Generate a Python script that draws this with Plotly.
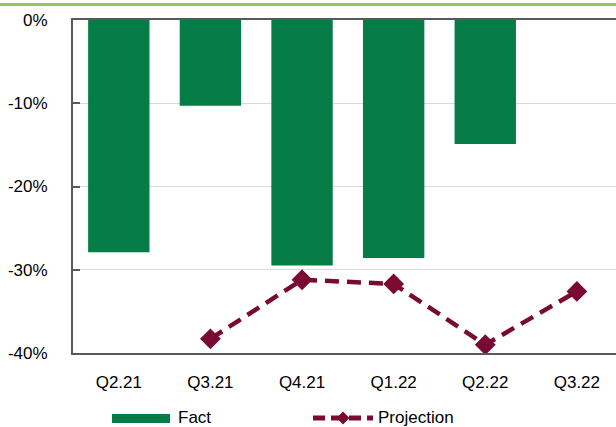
import plotly.graph_objects as go

# Quarterly change, %
quarters = ["Q2.21", "Q3.21", "Q4.21", "Q1.22", "Q2.22", "Q3.22"]
fact = [-27.9, -10.3, -29.5, -28.6, -14.9, None]
projection = [None, -38.3, -31.2, -31.7, -39.0, -32.6]
y_ticks = [0, -10, -20, -30, -40]
y_tick_text = ["0%", "-10%", "-20%", "-30%", "-40%"]

GREEN = "#067D46"
MAROON = "#7A0A32"
AXIS = "#595959"
FONT = "Liberation Sans, Arial, sans-serif"
FS = 17

W, H = 616, 427
ML, MR, MT, MB = 73, 0, 20, 74
PW, PH = W - ML - MR, H - MT - MB


def px_x(px):
    return (px - ML) / PW


def px_y(py):
    return (H - MB - py) / PH


fig = go.Figure()
fig.add_trace(go.Bar(
    x=quarters, y=fact, name="Fact",
    marker=dict(color=GREEN, line=dict(width=0)),
    width=0.67,
))
fig.add_trace(go.Scatter(
    x=quarters, y=projection, name="Projection", mode="lines+markers",
    line=dict(color=MAROON, width=4.5, dash="14px,8px"),
    marker=dict(symbol="diamond", size=16, color=MAROON),
    connectgaps=False,
))

fig.update_layout(
    width=W, height=H,
    margin=dict(l=ML, r=MR, t=MT, b=MB),
    paper_bgcolor="white", plot_bgcolor="white",
    showlegend=False,
    font=dict(family=FONT, size=FS, color="black"),
    xaxis=dict(
        type="category", range=[-0.5, 5.427],
        showline=True, linecolor=AXIS, linewidth=2, mirror=True,
        showgrid=False, ticks="", ticklabelstandoff=13,
        tickfont=dict(size=FS),
    ),
    yaxis=dict(
        range=[-40, 0], tickvals=y_ticks, ticktext=y_tick_text,
        showline=True, linecolor=AXIS, linewidth=2,
        showgrid=True, gridcolor="#D9D9D9", gridwidth=1,
        zeroline=False,
        ticks="inside", ticklen=7, tickcolor=AXIS, tickwidth=2,
        ticklabelstandoff=20, tickfont=dict(size=FS),
    ),
)

shapes = []
# thin green rule across the top of the page
shapes.append(dict(type="line", xref="paper", yref="paper",
                   x0=px_x(0), x1=px_x(W), y0=px_y(4.5), y1=px_y(4.5),
                   line=dict(color="#8DC663", width=3)))

# legend: Fact swatch
shapes.append(dict(type="rect", xref="paper", yref="paper",
                   x0=px_x(112), x1=px_x(170), y0=px_y(423), y1=px_y(414),
                   fillcolor=GREEN, line=dict(width=0)))
# legend: Projection dashed line with diamond
shapes.append(dict(type="line", xref="paper", yref="paper",
                   x0=px_x(313), x1=px_x(373), y0=px_y(418), y1=px_y(418),
                   line=dict(color=MAROON, width=5, dash="12px,6px")))
cx, cy, r = 343, 418, 6.5
shapes.append(dict(type="path", xref="paper", yref="paper",
                   path=(f"M {px_x(cx)} {px_y(cy - r)} L {px_x(cx + r)} {px_y(cy)} "
                         f"L {px_x(cx)} {px_y(cy + r)} L {px_x(cx - r)} {px_y(cy)} Z"),
                   fillcolor=MAROON, line=dict(width=0)))
fig.update_layout(shapes=shapes)

fig.add_annotation(xref="paper", yref="paper", x=px_x(176), y=px_y(417),
                   text="Fact", showarrow=False, xanchor="left", yanchor="middle",
                   font=dict(size=FS, family=FONT, color="black"))
fig.add_annotation(xref="paper", yref="paper", x=px_x(376), y=px_y(417),
                   text="Projection", showarrow=False, xanchor="left", yanchor="middle",
                   font=dict(size=FS, family=FONT, color="black"))

fig.write_html("out.html")
